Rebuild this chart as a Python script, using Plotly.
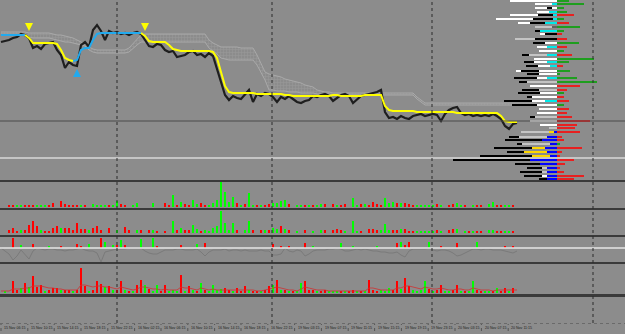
import plotly.graph_objects as go

W, H = 625, 334
BG = "#8c8c8c"

# ---------------- main price panel (bar index 0..129) ----------------
closes = [1.1458, 1.1459, 1.1460, 1.1462, 1.1463, 1.1466, 1.1465, 1.1462, 1.1452, 1.1454,
          1.1451, 1.1456, 1.1457, 1.1458, 1.1450, 1.1445, 1.1432, 1.1438, 1.1435, 1.1434,
          1.1455, 1.1458, 1.1453, 1.1470, 1.1475, 1.1469, 1.1460, 1.1469, 1.1467, 1.1468,
          1.1466, 1.1467, 1.1465, 1.1467, 1.1468, 1.1466, 1.1460, 1.1454, 1.1453, 1.1456,
          1.1455, 1.1450, 1.1448, 1.1449, 1.1443, 1.1444, 1.1445, 1.1448, 1.1449, 1.1445,
          1.1446, 1.1443, 1.1447, 1.1444, 1.1430, 1.1418, 1.1405, 1.1400, 1.1404, 1.1402,
          1.1401, 1.1405, 1.1410, 1.1398, 1.1406, 1.1404, 1.1407, 1.1406, 1.1403, 1.1398,
          1.1403, 1.1401, 1.1404, 1.1401, 1.1398, 1.1397, 1.1399, 1.1400, 1.1404, 1.1403,
          1.1405, 1.1406, 1.1404, 1.1399, 1.1402, 1.1405, 1.1406, 1.1404, 1.1397, 1.1401,
          1.1404, 1.1405, 1.1406, 1.1407, 1.1408, 1.1410, 1.1388, 1.1382, 1.1383, 1.1381,
          1.1384, 1.1382, 1.1381, 1.1384, 1.1385, 1.1386, 1.1384, 1.1385, 1.1386, 1.1385,
          1.1379, 1.1386, 1.1390, 1.1392, 1.1393, 1.1387, 1.1385, 1.1386, 1.1384, 1.1385,
          1.1384, 1.1385, 1.1384, 1.1386, 1.1384, 1.1381, 1.1374, 1.1371, 1.1376, 1.1377]

signal = [1.1465, 1.1465, 1.1465, 1.1465, 1.1465, 1.1465, 1.1465, 1.1462, 1.1457, 1.1457,
          1.1457, 1.1457, 1.1457, 1.1457, 1.1456, 1.1450, 1.1442, 1.1440, 1.1439, 1.1440,
          1.1450, 1.1452, 1.1452, 1.1460, 1.1466, 1.1467, 1.1467, 1.1467, 1.1467, 1.1467,
          1.1467, 1.1467, 1.1467, 1.1467, 1.1467, 1.1467, 1.1464, 1.1459, 1.1458, 1.1458,
          1.1458, 1.1458, 1.1455, 1.1451, 1.1450, 1.1449, 1.1449, 1.1449, 1.1449, 1.1449,
          1.1449, 1.1449, 1.1449, 1.1448, 1.1442, 1.1428, 1.1414, 1.1408, 1.1407, 1.1407,
          1.1407, 1.1407, 1.1407, 1.1407, 1.1406, 1.1406, 1.1406, 1.1406, 1.1406, 1.1406,
          1.1406, 1.1405, 1.1405, 1.1404, 1.1404, 1.1404, 1.1404, 1.1404, 1.1404, 1.1404,
          1.1404, 1.1404, 1.1404, 1.1405, 1.1405, 1.1404, 1.1404, 1.1404, 1.1404, 1.1404,
          1.1404, 1.1405, 1.1405, 1.1405, 1.1405, 1.1405, 1.1394, 1.1390, 1.1389, 1.1389,
          1.1389, 1.1389, 1.1389, 1.1389, 1.1388, 1.1388, 1.1388, 1.1388, 1.1388, 1.1388,
          1.1388, 1.1388, 1.1388, 1.1388, 1.1387, 1.1387, 1.1387, 1.1387, 1.1387, 1.1387,
          1.1387, 1.1387, 1.1387, 1.1387, 1.1387, 1.1384, 1.1379, 1.1378, 1.1378, 1.1378]

# U = up trend (cyan), D = down trend (yellow)
trend = ("UUUUUUU" "DDDDDDDDDDDD" "UUUUUUUUUUUUUUUUU" + "D" * 94)

arrow_down_bars = [7, 36]
arrow_down_price = [1.1469, 1.1469]
arrow_up_bars = [19]
arrow_up_price = [1.1431]

cloud_a = [1.1468, 1.1468, 1.1468, 1.1468, 1.1468, 1.1468, 1.1468,
           1.1467, 1.1467, 1.1467, 1.1467, 1.1467, 1.1467,
           1.1466, 1.1465, 1.1465, 1.1464, 1.1463, 1.1462,
           1.1460, 1.1458, 1.1456, 1.1453,
           1.1451, 1.1450, 1.1450, 1.1450, 1.1450, 1.1450, 1.1450, 1.1450, 1.1450, 1.1452,
           1.1456, 1.1461, 1.1465,
           1.1466, 1.1466, 1.1466, 1.1466, 1.1466, 1.1466, 1.1466, 1.1466,
           1.1466, 1.1466, 1.1466, 1.1466, 1.1466, 1.1466, 1.1466, 1.1466,
           1.1460, 1.1457, 1.1455,
           1.1453, 1.1453, 1.1453, 1.1453, 1.1453, 1.1452, 1.1452, 1.1452, 1.1452,
           1.1445, 1.1436, 1.1428,
           1.1426, 1.1425, 1.1424, 1.1423, 1.1421, 1.1420, 1.1419, 1.1418, 1.1417, 1.1415, 1.1414, 1.1413,
           1.1410, 1.1409, 1.1408, 1.1408,
           1.1407, 1.1407, 1.1407, 1.1407, 1.1407, 1.1407, 1.1407, 1.1407, 1.1407, 1.1407, 1.1407,
           1.1407, 1.1407, 1.1407, 1.1407, 1.1407, 1.1407, 1.1407, 1.1407, 1.1407, 1.1407,
           1.1403, 1.1400,
           1.1397, 1.1397, 1.1397, 1.1397, 1.1397, 1.1397, 1.1397, 1.1397, 1.1397, 1.1397,
           1.1397, 1.1397, 1.1397, 1.1397, 1.1397, 1.1397, 1.1397, 1.1397, 1.1397, 1.1397,
           1.1397, 1.1397, 1.1397, 1.1397, 1.1397, 1.1397, 1.1397, 1.1397, 1.1397]
cloud_b = [1.1466, 1.1466, 1.1466, 1.1466, 1.1466, 1.1466, 1.1466,
           1.1463, 1.1462, 1.1462, 1.1462, 1.1462, 1.1462,
           1.1461, 1.1460, 1.1459, 1.1458, 1.1458, 1.1457,
           1.1456, 1.1455, 1.1454, 1.1450,
           1.1448, 1.1447, 1.1447, 1.1447, 1.1447, 1.1447, 1.1447, 1.1447, 1.1447, 1.1448,
           1.1452, 1.1455, 1.1458,
           1.1458, 1.1458, 1.1458, 1.1458, 1.1458, 1.1458, 1.1458, 1.1458,
           1.1458, 1.1458, 1.1458, 1.1458, 1.1458, 1.1458, 1.1458, 1.1458,
           1.1452, 1.1449, 1.1446,
           1.1442, 1.1441, 1.1440, 1.1440, 1.1440, 1.1440, 1.1440, 1.1440, 1.1440,
           1.1435, 1.1428, 1.1420,
           1.1410, 1.1410, 1.1409, 1.1409, 1.1409, 1.1408, 1.1408, 1.1408, 1.1407, 1.1407, 1.1407, 1.1407,
           1.1406, 1.1406, 1.1406, 1.1406,
           1.1405, 1.1405, 1.1405, 1.1405, 1.1405, 1.1405, 1.1405, 1.1405, 1.1405, 1.1405, 1.1405,
           1.1405, 1.1405, 1.1405, 1.1405, 1.1405, 1.1405, 1.1405, 1.1405, 1.1405, 1.1405,
           1.1401, 1.1398,
           1.1395, 1.1395, 1.1395, 1.1395, 1.1395, 1.1395, 1.1395, 1.1395, 1.1395, 1.1395,
           1.1395, 1.1395, 1.1395, 1.1395, 1.1395, 1.1395, 1.1395, 1.1395, 1.1395, 1.1395,
           1.1395, 1.1395, 1.1395, 1.1395, 1.1395, 1.1395, 1.1395, 1.1395, 1.1395]

level_lines = [1.1379, 1.1342]          # dark level, light level
level_colors = ["#4a4a4a", "#d8d8d8"]
day_separators = [29, 67.75, 107.75, 148]

# ---------------- volume profile (right side) ----------------
vp_price = [1.1499, 1.1496, 1.1492, 1.1488, 1.1485, 1.1481, 1.1477, 1.1473, 1.1469, 1.1466,
            1.1461, 1.1457, 1.1453, 1.1449, 1.1445, 1.1441, 1.1438, 1.1434, 1.1429, 1.1426,
            1.1422, 1.1418, 1.1414, 1.1410, 1.1407, 1.1403, 1.1399, 1.1395, 1.1391, 1.1387,
            1.1383, 1.1379, 1.1375, 1.1372, 1.1368, 1.1363, 1.1360, 1.1356, 1.1352, 1.1348,
            1.1344, 1.1340, 1.1336, 1.1332, 1.1328, 1.1324, 1.1321]
vp_seg1 = [47, 5, 5, 8, 4, 4, 12, 5, 17, 12, 22, 12, 10, 18, 10, 23, 10, 7, 18, 18,
           10, 30, 27, 18, 17, 25, 12, 20, 18, 20, 22, 27, 17, 8, 3, 10, 15, 7, 12, 10,
           7, 27, 17, 10, 10, 10, 10]
vp_col1 = "wcwccccdckkwcwcwccwwcgwgwwcwwwgwwgbbbbbbbbbbbbb"
vp_seg2 = [0, 17, 5, 12, 15, 20, 15, 17, 5, 5, 20, 12, 10, 0, 18, 0, 13, 12, 18, 12,
           10, 8, 0, 17, 22, 5, 13, 25, 0, 0, 5, 0, 0, 0, 5, 28, 37, 28, 13, 23,
           18, 77, 25, 5, 5, 5, 8]
vp_col2 = "-wkwkkkgkwgkw-g-wwkkwk-kkkwk--k---ygkgyyykkggwk"
vp_seg3 = [0, 0, 12, 0, 28, 37, 12, 0, 0, 0, 0, 0, 0, 0, 7, 0, 10, 12, 5, 0,
           23, 0, 0, 0, 0, 0, 28, 0, 0, 0, 0, 0, 0, 0, 28, 10, 0, 5, 38, 17,
           52, 0, 0, 15, 22, 18, 0]
vp_col3 = "--w-www" "-------" "k-kkw-k" "-----" "k" "-------" "gk" "-" "kkkk" "--" "kkk" "-"
vp_delta = [12, 27, 7, 10, 17, 7, 12, 23, 7, 5, 10, 22, 10, 7, 15, 37, 12, 6, 13, 3,
            20, 40, 23, 10, 7, 7, 12, 7, 12, 10, 15, 33, 20, 18, 23, 5, 7, 3, 25, 5,
            3, 17, 8, 3, 7, 27, 17]
vp_delta_col = "GGGGRGRGGRRGRGRGGRGGGGRRGRRGRRRRRRRRRGRRRRRRRRR"

# ---------------- sub panels ----------------
vol1 = [0, 0, 2, 2, 2, 1.5, 1.5, 2, 2, 2, 2, 2, 2, 4, 0, 6, 3, 2.5, 2, 2,
        2, 2, 0, 3, 2.5, 2.5, 2.5, 2, 2.5, 6, 3, 2.5, 0, 2, 4, 0, 0, 0, 4, 0,
        0, 4, 2, 12, 2.5, 5, 3, 2.5, 7, 3.5, 4, 2.5, 1.7, 4, 7, 25, 15, 5, 10, 4,
        2, 3, 14, 2, 2.5, 2, 2, 3, 4, 4, 6, 7, 3, 0, 2, 2, 2.5, 2, 2.5, 2,
        3, 3, 0, 3, 2, 2, 3, 0, 9, 2.5, 3, 3, 2, 5, 3, 2.5, 9, 4, 5, 4,
        4, 4, 3, 2, 2, 2, 1.7, 1.7, 1.7, 3, 2, 0, 2, 3, 4, 2, 2, 0, 2, 2,
        2, 0, 3, 5, 2, 2, 2, 1.5, 2, 0]
vol1_col = ("--RRGGRRRG" "GGRR-RRRRR" "GR-GGGGRGG" "RR-GG---G-" "-RRGRGRRGG"
            "RRGGGGGGGR" "GRGGRGRRGG" "GGR-GGRGRG" "GR-RGRR-GG" "RGRRRRGGGR"
            "GRRRGGGGGR" "G-RRGGR-GR" "R-GGRRGGR-")

vol2 = [0, 0, 3, 5, 2, 3, 3, 8, 12, 7, 3, 2, 2, 5, 7, 5, 5, 5, 3, 10,
        4, 4, 3, 5, 7, 3, 0, 5, 0, 3, 0, 6, 3, 0, 3, 3, 0, 3, 3, 2,
        0, 2, 0, 12, 3, 5, 3, 3, 8, 4, 2, 3, 2, 5, 7, 22, 10, 3, 10, 3,
        0, 3, 12, 3, 0, 3, 3, 3, 5, 4, 7, 4, 3, 0, 2, 0, 3, 0, 2, 0,
        3, 3, 0, 3, 4, 3, 2, 0, 12, 2, 2, 0, 4, 4, 3, 3, 9, 3, 3, 3,
        4, 4, 2, 2, 2, 2, 2, 2, 2, 3, 2, 0, 3, 4, 4, 0, 2, 2, 2, 2,
        2, 0, 3, 3, 2, 2, 2, 2, 2, 0]
vol2_col = ("--RRRGRRRR" "GRRRRGRRRR" "RRGRRR-R-G" "-RR-GR-RGR" "-R-GRGRRGG"
            "RGGGGGGGGR" "-GGR-RGRGG" "RGR-G-R-G-" "GR-RRRG-GG" "R-RRRGGGRR"
            "GRRRGGGGGR" "G-RRG-GRGR" "R-GGRRGGR-")

osc_bar = [0, 0, 0, 10, 0, 3, 0, 0, 4, 0, 0, 0, 2, 0, 0, 2, 0, 0, 0, 4,
           2, 0, 4, 0, 0, 10, 6, 0, 3, 3, 8, 3, 0, 0, 0, 9, 0, 0, 10, 2,
           0, 0, 0, 0, 0, 3, 0, 0, 0, 4, 0, 5, 0, 0, 0, 0, 0, 0, 0, 0,
           0, 0, 0, 0, 0, 0, 0, 0, 4, 0, 2, 0, 2, 0, 0, 0, 5, 0, 2, 0,
           0, 0, 0, 0, 0, 5, 0, 0, 2, 0, 0, 0, 0, 0, 2, 0, 0, 0, 0, 5,
           6, 3, 6, 0, 0, 0, 0, 6, 0, 0, 2, 0, 0, 0, 5, 0, 0, 0, 0, 6,
           0, 0, 0, 0, 0, 0, 2, 0, 2, 0]
osc_col = ("---R-G--R-" "--G--R---R" "R-G--RG-GR" "GR---G--GR" "-----R---G"
           "-R--------" "--------R-" "R-R---R-G-" "-----G--G-" "----G----R"
           "GRR----G--" "R---R----G" "------R-R-")
osc_line = [0, -3, -6, -12, -8, -2, -6, -11, -3, 0, -1, -2, -1, -1, -2, -2, -3, -2, -2, -1,
            0, -2, -3, -3, -5, -14, -4, -3, -2, -1, -1, -1, 0, 0, 0, 0, -3, -5, -6, -6,
            -4, -2, -2, -2, -1, -1, -2, -2, -2, -1, -4, -8, -4, -2, -2, -2, -1, -3, -2, -2,
            -3, -2, -3, -3, -3, -2, -3, -3, -7, -7, -6, 0, -3, -4, -2, -3, -8, -6, -3, -2,
            -2, -2, -1, -1, 0, -1, -3, -3, -2, -1, -2, -1, -2, -3, -3, -4, -4, -5, -5, -4,
            -7, -9, -3, -1, -1, -1, -1, 0, -2, -3, -2, -2, -3, -5, -8, -7, -5, -3, -1, -1,
            -2, -1, -1, -2, -2, -2, -3, -4, -5, -3]

vol4 = [0, 2, 0, 12, 3, 5, 10, 6, 17, 6, 8, 2, 3, 5, 5, 3, 3, 3, 2, 3,
        25, 7, 2, 3, 12, 9, 6, 7, 3, 3, 12, 3, 2, 2, 8, 13, 8, 4, 2, 8,
        2, 8, 2, 3, 2, 18, 2, 7, 3, 2, 10, 3, 2, 8, 3, 4, 5, 3, 2, 5,
        2, 7, 3, 2, 2, 2, 3, 7, 8, 13, 3, 3, 2, 2, 2, 10, 12, 3, 3, 2,
        2, 3, 2, 2, 2, 2, 2, 2, 3, 2, 2, 2, 13, 3, 2, 3, 2, 5, 3, 12,
        4, 15, 7, 3, 2, 3, 12, 4, 2, 3, 8, 2, 2, 3, 8, 2, 2, 2, 12, 3,
        2, 2, 2, 2, 5, 2, 5, 2, 5, 0]
vol4_col = ("-G-RRGRGRR" "RGRRRGRRGR" "RRGRRRGRGR" "RGRGRRGRGG" "RRGGGRGRGR"
            "GRGGGGRRGR" "RRGRRGRRGR" "GRGRGGRRRG" "RRGGGRGRRG" "RGRRRGGGRR"
            "GRRGGGGRGR" "RGGRRGRGGR" "RGGRGRRGR-")
vol4_avg = [2, 2, 2, 4, 4, 4, 5, 5, 7, 7, 7, 6, 5, 5, 4, 4, 3, 3, 3, 3,
            8, 8, 7, 6, 7, 7, 6, 6, 5, 4, 6, 5, 4, 3, 4, 6, 6, 5, 4, 4,
            3, 4, 3, 3, 3, 6, 5, 5, 4, 3, 5, 4, 3, 4, 3, 3, 3, 3, 3, 3,
            3, 3, 3, 3, 2, 2, 3, 4, 5, 6, 5, 4, 3, 3, 2, 4, 6, 5, 4, 3,
            3, 3, 2, 2, 2, 2, 2, 2, 2, 2, 2, 2, 5, 5, 4, 3, 3, 3, 3, 5,
            5, 7, 7, 6, 5, 4, 6, 5, 4, 4, 5, 4, 3, 3, 4, 4, 3, 3, 5, 4,
            3, 3, 3, 2, 3, 3, 3, 3, 3, 3]

tick_bars = [0, 6.7, 13.3, 20, 26.7, 33.4, 40, 46.7, 53.4, 60, 66.7, 73.4, 80.1, 86.8,
             93.4, 100.1, 106.8, 113.5, 120.1, 126.8]
tick_labels = ["15 Nov 06:15", "15 Nov 10:15", "15 Nov 14:15", "15 Nov 18:15", "15 Nov 22:15",
               "16 Nov 02:15", "16 Nov 06:15", "16 Nov 10:15", "16 Nov 14:15", "16 Nov 18:15",
               "16 Nov 22:15", "19 Nov 03:15", "19 Nov 07:15", "19 Nov 11:15", "19 Nov 15:15",
               "19 Nov 19:15", "19 Nov 23:15", "20 Nov 03:15", "20 Nov 07:15", "20 Nov 11:15"]

# ---------------- build ----------------
N = len(closes)
bars = list(range(N))
RG = {"R": "#ff0000", "G": "#00ff00", "-": "rgba(0,0,0,0)"}
SEG = {"w": "#ffffff", "c": "#00e8e8", "k": "#000000", "g": "#c4c4c4", "d": "#606060",
       "b": "#0000ff", "y": "#ffd700", "-": "rgba(0,0,0,0)"}
DELTA = {"G": "#1e9e1e", "R": "#e82020"}


def pxy(p):
    return 1 - p / H


fig = go.Figure()

# cloud
cb = list(range(len(cloud_a)))
fig.add_trace(go.Scatter(x=cb, y=cloud_a, mode="lines", line=dict(color="#a9a9a9", width=1),
                         xaxis="x", yaxis="y", hoverinfo="skip"))
fig.add_trace(go.Scatter(x=cb, y=cloud_b, mode="lines", line=dict(color="#a9a9a9", width=1),
                         fill="tonexty", fillcolor="rgba(0,0,0,0)",
                         fillpattern=dict(shape="+", size=3, solidity=0.35, fgcolor="#a4a4a4",
                                          bgcolor="rgba(0,0,0,0)"),
                         xaxis="x", yaxis="y", hoverinfo="skip"))

# price
fig.add_trace(go.Scatter(x=bars, y=closes, mode="lines", line=dict(color="#1e1e1e", width=2.2),
                         xaxis="x", yaxis="y"))

# signal line coloured by trend
for code, col in (("U", "#22aaee"), ("D", "#ffff00")):
    ys = []
    for i in range(N):
        on = trend[i] == code or (i + 1 < N and trend[i + 1] == code)
        ys.append(signal[i] if on else None)
    fig.add_trace(go.Scatter(x=bars, y=ys, mode="lines", line=dict(color=col, width=2),
                             connectgaps=False, xaxis="x", yaxis="y"))

fig.add_trace(go.Scatter(x=arrow_down_bars, y=arrow_down_price, mode="markers",
                         marker=dict(symbol="arrow-down", size=8, color="#ffff00"),
                         xaxis="x", yaxis="y"))
fig.add_trace(go.Scatter(x=arrow_up_bars, y=arrow_up_price, mode="markers",
                         marker=dict(symbol="arrow-up", size=8, color="#22aaee"),
                         xaxis="x", yaxis="y"))

# volume profile (left stacked, right delta)
for seg, cols in ((vp_seg1, vp_col1), (vp_seg2, vp_col2), (vp_seg3, vp_col3)):
    fig.add_trace(go.Bar(x=[-v for v in seg], y=vp_price, orientation="h",
                         marker=dict(color=[SEG[c] for c in cols], line=dict(width=0)),
                         width=0.00026, xaxis="x2", yaxis="y"))
fig.add_trace(go.Bar(x=vp_delta, y=vp_price, orientation="h",
                     marker=dict(color=[DELTA[c] for c in vp_delta_col], line=dict(width=0)),
                     width=0.00020, xaxis="x2", yaxis="y"))

# sub panels
for vals, cols, ax in ((vol1, vol1_col, "y3"), (vol2, vol2_col, "y4"),
                       (osc_bar, osc_col, "y5"), (vol4, vol4_col, "y6")):
    fig.add_trace(go.Bar(x=bars, y=vals, marker=dict(color=[RG[c] for c in cols], line=dict(width=0)),
                         width=0.62, xaxis="x", yaxis=ax))
fig.add_trace(go.Scatter(x=bars, y=osc_line, mode="lines", line=dict(color="#7a7a7a", width=1),
                         xaxis="x", yaxis="y5"))
fig.add_trace(go.Scatter(x=bars, y=vol4_avg, mode="lines", line=dict(color="#d23030", width=0.8),
                         xaxis="x", yaxis="y6"))

shapes = []
# level lines in main panel
for lv, lc in zip(level_lines, level_colors):
    shapes.append(dict(type="line", xref="paper", x0=0, x1=1, yref="y", y0=lv, y1=lv,
                       line=dict(color=lc, width=1.5 if lc == "#d8d8d8" else 1)))
# oscillator zero line
shapes.append(dict(type="line", xref="paper", x0=0, x1=1, yref="y5", y0=0, y1=0,
                   line=dict(color="#e6e6e6", width=1.5)))
# panel separators
for p in (181, 209, 236, 263, 295.5):
    shapes.append(dict(type="line", xref="paper", x0=0, x1=1, yref="paper", y0=pxy(p), y1=pxy(p),
                       line=dict(color="#3a3a3a", width=2 if p < 295 else 3)))
# day separators
for d in day_separators:
    shapes.append(dict(type="line", xref="x", x0=d, x1=d, yref="paper", y0=pxy(323), y1=1,
                       line=dict(color="#2a2a2a", width=1, dash="dot")))
# time axis guide
shapes.append(dict(type="line", xref="paper", x0=0, x1=1, yref="paper", y0=pxy(323.5), y1=pxy(323.5),
                   line=dict(color="#6a6a6a", width=1, dash="dot")))
annotations = []
for tb, tl in zip(tick_bars, tick_labels):
    shapes.append(dict(type="line", xref="x", x0=tb, x1=tb, yref="paper", y0=pxy(331), y1=pxy(324),
                       line=dict(color="#555555", width=1, dash="dot")))
    annotations.append(dict(x=tb + 0.3, xref="x", y=pxy(328), yref="paper", text=tl,
                            showarrow=False, xanchor="left", yanchor="middle",
                            font=dict(family="Liberation Sans, Arial, sans-serif",
                                      size=3.6, color="#222222")))

hidden = dict(visible=False, showgrid=False, zeroline=False, fixedrange=True)
fig.update_layout(
    width=W, height=H, margin=dict(l=0, r=0, t=0, b=0),
    paper_bgcolor=BG, plot_bgcolor=BG, showlegend=False, barmode="relative", bargap=0,
    xaxis=dict(domain=[0, 1], range=[-0.25, 156], anchor="y", **hidden),
    xaxis2=dict(domain=[0, 1], range=[-557, 68], overlaying="x", anchor="y", **hidden),
    yaxis=dict(domain=[pxy(181), 1], range=[1.1319, 1.1500], anchor="x", **hidden),
    yaxis3=dict(domain=[pxy(208), pxy(182)], range=[-1, 25], anchor="x", **hidden),
    yaxis4=dict(domain=[pxy(235), pxy(210)], range=[-2, 23], anchor="x", **hidden),
    yaxis5=dict(domain=[pxy(262), pxy(237)], range=[-14, 11], anchor="x", **hidden),
    yaxis6=dict(domain=[pxy(294), pxy(264)], range=[-1, 29], anchor="x", **hidden),
    shapes=shapes, annotations=annotations,
)

fig.write_html("out.html")
